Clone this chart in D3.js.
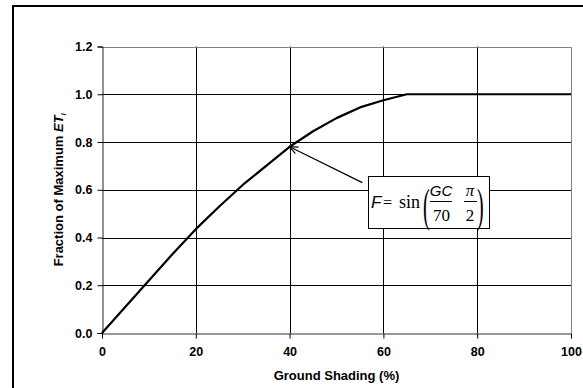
<!DOCTYPE html>
<html>
<head>
<meta charset="utf-8">
<script src="https://cdn.jsdelivr.net/npm/d3@7"></script>
<style>
  html, body { margin: 0; background: #fff; overflow: hidden; }
  svg { display: block; }
  .tick text { font-family: "Liberation Sans", Arial, sans-serif; font-weight: bold; font-size: 12.5px; fill: #000; }
</style>
</head>
<body>
<div id="chart"></div>
<script>
// data
let shading = [0, 5, 10, 15, 20, 25, 30, 35, 40, 45, 50, 55, 60, 65, 70, 100];
let fraction = [0, 0.11, 0.22, 0.33, 0.435, 0.53, 0.62, 0.70, 0.78, 0.845, 0.90, 0.945, 0.975, 1.0, 1.0, 1.0];
let xTicks = [0, 20, 40, 60, 80, 100];
let yTicks = [0, 0.2, 0.4, 0.6, 0.8, 1.0, 1.2];
// arrow: from formula box to the curve point at 40%
let arrowFrom = [55.5, 0.63];
let arrowTo = [40, 0.78];

let width = 583, height = 388;
let plotLeft = 102, plotRight = 571, plotTop = 46.5, plotBottom = 333;

let svg = d3.select("#chart").append("svg")
  .attr("width", width).attr("height", height);

// outer frame: only left and top edges are inside the picture
svg.append("path")
  .attr("d", `M13,${height}V6H${width}`)
  .attr("fill", "none").attr("stroke", "#000").attr("stroke-width", 2);

let xScale = d3.scaleLinear().domain([0, 100]).range([plotLeft, plotRight]);
let yScale = d3.scaleLinear().domain([0, 1.2]).range([plotBottom, plotTop]);

// gridlines
svg.append("g")
  .selectAll("line")
  .data(yTicks.slice(1, -1))
  .enter().append("line")
  .attr("x1", plotLeft).attr("x2", plotRight)
  .attr("y1", d => Math.round(yScale(d)) + 0.5).attr("y2", d => Math.round(yScale(d)) + 0.5)
  .attr("stroke", "#000").attr("stroke-width", 1);

svg.append("g")
  .selectAll("line")
  .data(xTicks.slice(1, -1))
  .enter().append("line")
  .attr("y1", plotTop).attr("y2", plotBottom)
  .attr("x1", d => Math.round(xScale(d)) + 0.5).attr("x2", d => Math.round(xScale(d)) + 0.5)
  .attr("stroke", "#000").attr("stroke-width", 1);

// plot area border (top/right, grey)
svg.append("path")
  .attr("d", `M${plotLeft},${Math.round(plotTop) + 0.5}H${Math.round(plotRight) + 0.5}V${plotBottom}`)
  .attr("fill", "none").attr("stroke", "#808080").attr("stroke-width", 1);

// axes
let xAxis = d3.axisBottom(xScale).tickValues(xTicks).tickSize(5).tickPadding(9).tickFormat(d3.format("d"));
let yAxis = d3.axisLeft(yScale).tickValues(yTicks).tickSize(5).tickPadding(5).tickFormat(d3.format(".1f"));

let gx = svg.append("g").attr("transform", "translate(0," + (Math.round(plotBottom) + 0.5) + ")").call(xAxis);
let gy = svg.append("g").attr("transform", "translate(" + (Math.round(plotLeft) + 0.5) + ",0)").call(yAxis);
gx.select(".domain").attr("stroke", "#333");
gy.select(".domain").attr("stroke", "#222");
gx.selectAll(".tick line").attr("stroke", "#000");
gy.selectAll(".tick line").attr("stroke", "#000");

// axis titles
let sans = "Liberation Sans, Arial, sans-serif";
let serif = "Liberation Serif, Times New Roman, serif";

svg.append("text")
  .attr("x", (plotLeft + plotRight) / 2).attr("y", 380)
  .attr("text-anchor", "middle")
  .style("font-family", sans)
  .style("font-weight", "bold").style("font-size", "13px")
  .text("Ground Shading (%)");

let yTitle = svg.append("text")
  .attr("transform", "translate(63," + ((plotTop + plotBottom) / 2) + ") rotate(-90)")
  .attr("text-anchor", "middle")
  .style("font-family", sans)
  .style("font-weight", "bold").style("font-size", "13px");
yTitle.append("tspan").text("Fraction of Maximum ");
yTitle.append("tspan").style("font-style", "italic").text("ET");
yTitle.append("tspan").style("font-style", "italic").style("font-size", "8px").attr("dy", 3).text("l");

// curve
let line = d3.line()
  .x((d, i) => xScale(shading[i]))
  .y(d => yScale(d));

svg.append("path")
  .datum(fraction)
  .attr("d", line)
  .attr("fill", "none").attr("stroke", "#000").attr("stroke-width", 2.2)
  .attr("stroke-linejoin", "round");

// arrow
let ax1 = xScale(arrowFrom[0]), ay1 = yScale(arrowFrom[1]);
let ax2 = xScale(arrowTo[0]), ay2 = yScale(arrowTo[1]);
svg.append("line")
  .attr("x1", ax1).attr("y1", ay1).attr("x2", ax2).attr("y2", ay2)
  .attr("stroke", "#000").attr("stroke-width", 1.2);
let ang = Math.atan2(ay1 - ay2, ax1 - ax2);
let headLen = 9, spread = 0.42;
svg.append("path")
  .attr("d", `M${ax2 + headLen * Math.cos(ang - spread)},${ay2 + headLen * Math.sin(ang - spread)}L${ax2},${ay2}L${ax2 + headLen * Math.cos(ang + spread)},${ay2 + headLen * Math.sin(ang + spread)}`)
  .attr("fill", "none").attr("stroke", "#000").attr("stroke-width", 1.2);

// formula box
let bx = 368, by = 176;
let f = svg.append("g").attr("transform", "translate(" + bx + "," + by + ")");
f.append("rect")
  .attr("x", 0.5).attr("y", 0.5).attr("width", 121).attr("height", 52)
  .attr("fill", "#fff").attr("stroke", "#000").attr("stroke-width", 1);

f.append("text").attr("x", 3).attr("y", 32)
  .style("font-family", sans).style("font-style", "italic").style("font-size", "17px").text("F");
f.append("text").attr("x", 15).attr("y", 32)
  .style("font-family", serif).style("font-size", "16px").text("=");
f.append("text").attr("x", 31).attr("y", 32)
  .style("font-family", serif).style("font-size", "18px").text("sin");
// tall delimiters, stretched vertically
f.append("text").attr("transform", "translate(55,45) scale(1,2.3)")
  .style("font-family", serif).style("font-size", "20px").text("(");
f.append("text").attr("transform", "translate(109,45) scale(1,2.3)")
  .style("font-family", serif).style("font-size", "20px").text(")");
// GC / 70
f.append("text").attr("x", 73).attr("y", 20).attr("text-anchor", "middle")
  .style("font-family", sans).style("font-style", "italic").style("font-size", "15px").text("GC");
f.append("line").attr("x1", 62).attr("x2", 84).attr("y1", 25.5).attr("y2", 25.5)
  .attr("stroke", "#000").attr("stroke-width", 1);
f.append("text").attr("x", 73.5).attr("y", 45).attr("text-anchor", "middle")
  .style("font-family", serif).style("font-size", "17px").text("70");
// pi / 2
f.append("text").attr("x", 102).attr("y", 20).attr("text-anchor", "middle")
  .style("font-family", serif).style("font-style", "italic").style("font-size", "17px").text("π");
f.append("line").attr("x1", 96).attr("x2", 109).attr("y1", 25.5).attr("y2", 25.5)
  .attr("stroke", "#000").attr("stroke-width", 1);
f.append("text").attr("x", 102).attr("y", 45).attr("text-anchor", "middle")
  .style("font-family", serif).style("font-size", "17px").text("2");
</script>
</body>
</html>
